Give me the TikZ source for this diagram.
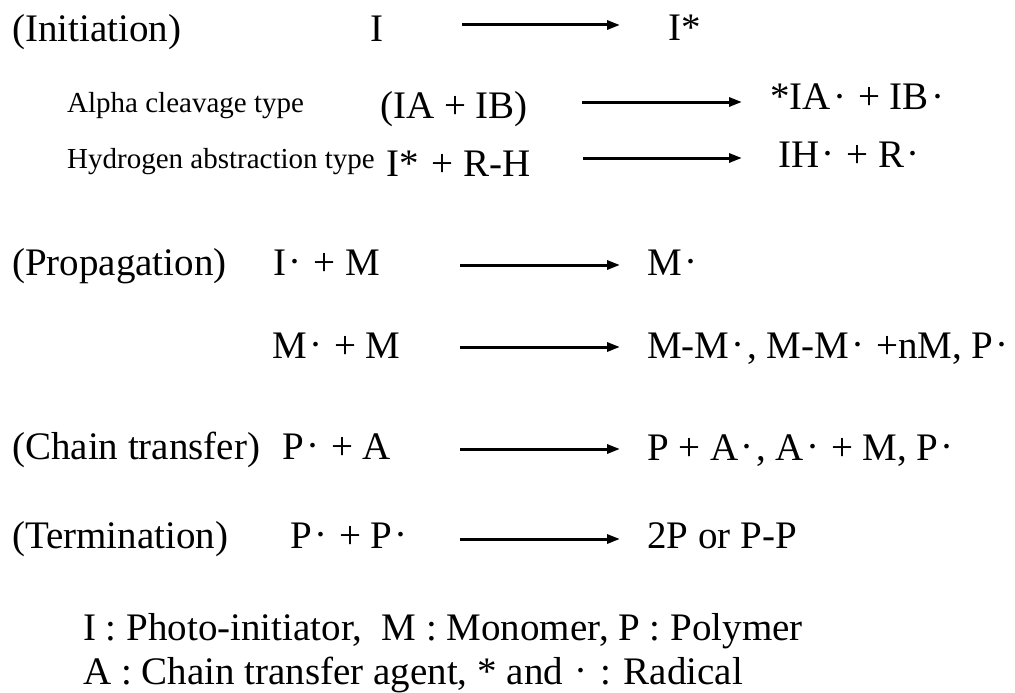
\documentclass[tikz,border=0pt]{standalone}
\usepackage{fontspec}
\setmainfont{Liberation Serif}
\usetikzlibrary{arrows.meta}
\newcommand\rd{\makebox[0.45em]{\raisebox{0.01em}{·}}}
\begin{document}
\begin{tikzpicture}[x=1pt,y=-1pt,
  txt/.style={anchor=base west, inner sep=0pt, font=\fontsize{39}{47}\selectfont},
  small/.style={anchor=base west, inner sep=0pt, font=\fontsize{29}{35}\selectfont},
  rxn/.style={line width=3pt, -{Triangle[length=13pt,width=9pt]}}]
\useasboundingbox (0,0) rectangle (1015,693);
% Row 1
\node[txt] (init) at (12,42) {(Initiation)};
\node[txt] (r1l) at (370,42) {I};
\node[txt] (r1r) at (668,41) {I*};
\coordinate (a1s) at (462,25); \coordinate (a1e) at (620,25);
\draw[rxn] (a1s) -- (a1e);
% Row 2
\node[small] (alpha) at (67,113) {Alpha cleavage type};
\node[txt] (r2l) at (380,118) {(IA + IB)};
\node[txt] (r2r) at (770,110) {*IA\rd{} + IB\rd};
\coordinate (a2s) at (582,102); \coordinate (a2e) at (742,102);
\draw[rxn] (a2s) -- (a2e);
% Row 3
\node[small] (hydro) at (67,168) {Hydrogen abstraction type};
\node[txt] (r3l) at (386,176) {I*\,\,+ R-H};
\coordinate (a3s) at (583,158); \coordinate (a3e) at (742,158);
\draw[rxn] (a3s) -- (a3e);
\node[txt] (r3r) at (778,167) {IH\rd{} + R\rd};
% Row 4
\node[txt] (prop) at (12,275) {(Propagation)};
\node[txt] (r4l) at (273,275) {I\rd{} + M};
\coordinate (a4s) at (460,265); \coordinate (a4e) at (620,265);
\draw[rxn] (a4s) -- (a4e);
\node[txt] (r4r) at (647,275) {M\rd};
% Row 5
\node[txt] (r5l) at (272,358) {M\rd{} + M};
\coordinate (a5s) at (460,347); \coordinate (a5e) at (620,347);
\draw[rxn] (a5s) -- (a5e);
\node[txt] (r5r) at (647,358) {M-M\rd, M-M\rd{} +nM, P\rd};
% Row 6
\node[txt] (chain) at (12,459) {(Chain transfer)};
\node[txt] (r6l) at (282,459) {P\rd{} + A};
\coordinate (a6s) at (460,449); \coordinate (a6e) at (620,449);
\draw[rxn] (a6s) -- (a6e);
\node[txt] (r6r) at (647,460) {P + A\rd, A\rd{} + M, P\rd};
% Row 7
\node[txt] (term) at (12,548) {(Termination)};
\node[txt] (r7l) at (290,548) {P\rd{} + P\rd};
\coordinate (a7s) at (460,539); \coordinate (a7e) at (620,539);
\draw[rxn] (a7s) -- (a7e);
\node[txt] (r7r) at (647,548) {2P or P-P};
% Legend
\node[txt] (leg1) at (83,640) {I : Photo-initiator,\ \ M : Monomer, P : Polymer};
\node[txt] (leg2) at (83,684) {A : Chain transfer agent, * and \rd{} : Radical};
\end{tikzpicture}
\end{document}
